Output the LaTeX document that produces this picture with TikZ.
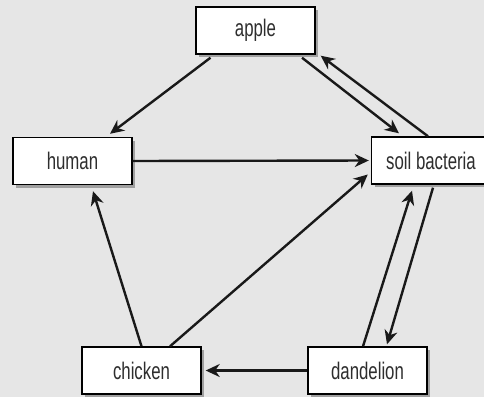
\documentclass[tikz,border=0pt]{standalone}
\usepackage{fontspec}
\setmainfont{Liberation Sans}[FakeStretch=0.7]
\usetikzlibrary{arrows.meta,shadows,calc}
\definecolor{bgc}{HTML}{E6E6E6}
\definecolor{shd}{HTML}{A0A0A0}
\definecolor{txt}{HTML}{2E2E2E}
\tikzset{
  box/.style={draw=black, line width=1.4pt, fill=white, minimum width=119pt, minimum height=47pt,
    inner sep=0pt, text=txt, font=\fontsize{24}{28}\selectfont,
    drop shadow={shadow xshift=3pt, shadow yshift=-3pt, fill=shd, opacity=1}},
  conn/.style={line width=2.4pt, draw=black!90, -{Stealth[length=14pt,width=13pt,inset=4.5pt]}}
}
\begin{document}
\begin{tikzpicture}[x=1pt,y=-1pt]
\useasboundingbox (0,0) rectangle (484,397);
\fill[bgc] (0,0) rectangle (484,397);
\node[box] (apple) at (255.5,30.5) {apple};
\node[box] (human) at (72.5,161) {human};
\node[box] (soil) at (431,160.5) {soil bacteria};
\node[box] (chicken) at (141.5,370.5) {chicken};
\node[box] (dand) at (367.5,370.5) {dandelion};
% apple -> human
\draw[conn] ($(apple.south)+(-45,3)$) -- ($(human.north)+(37.5,-3)$);
% apple -> soil
\draw[conn] ($(apple.south)+(46.5,3)$) -- ($(soil.north)+(-32,-3)$);
% soil -> apple
\draw[conn] ($(soil.north)+(-3,0)$) -- ($(apple.south east)+(5,1)$);
% human -> soil
\draw[conn] (human.east) -- ($(soil.west)+(-2,0)$);
% chicken -> human
\draw[conn] (chicken.north) -- ($(human.south)+(20.5,6)$);
% chicken -> soil
\draw[conn] ($(chicken.north)+(28.5,0)$) -- ($(soil.west)+(-3,14)$);
% dandelion -> soil
\draw[conn] ($(dand.north)+(-4.5,0)$) -- ($(soil.south)+(-19,6)$);
% soil -> dandelion
\draw[conn] ($(soil.south)+(2,3)$) -- ($(dand.north)+(19.5,-2)$);
% dandelion -> chicken
\draw[conn] (dand.west) -- ($(chicken.east)+(4,0)$);
\end{tikzpicture}
\end{document}
